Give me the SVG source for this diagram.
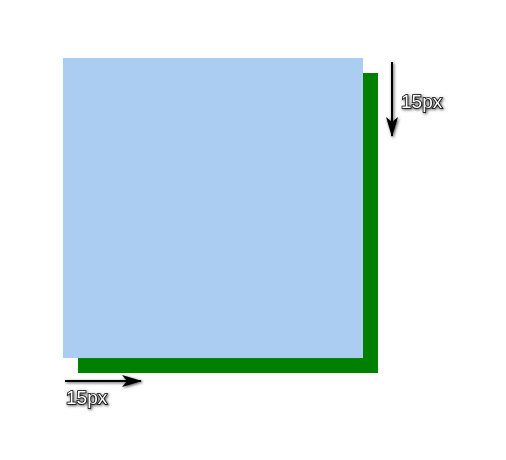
<svg xmlns="http://www.w3.org/2000/svg" width="506" height="460" viewBox="0 0 506 460">
<style>
.lbl{font-family:"Liberation Sans",Arial,sans-serif;font-size:19px;fill:#fff;stroke:#000;stroke-width:1.6;paint-order:stroke;filter:url(#sh)}
.arr{stroke:#000;stroke-width:2;fill:none;filter:url(#sh)}
</style>
<defs>
<filter id="sh" filterUnits="userSpaceOnUse" x="0" y="0" width="506" height="460">
<feDropShadow dx="1" dy="1" stdDeviation="1.5" flood-color="#000" flood-opacity="0.7"/>
</filter>
<marker id="ah" viewBox="0 0 20 12" refX="19" refY="6" markerWidth="20" markerHeight="12" markerUnits="userSpaceOnUse" orient="auto">
<path d="M0,0 L20,6 L0,12 L5,6 Z" fill="#000"/>
</marker>
</defs>
<g id="shadow-box"><rect x="78" y="73" width="300" height="300" fill="#008000"/></g>
<g id="box"><rect x="63" y="58" width="300" height="300" fill="#abcdf1"/></g>
<g id="connectors">
<line class="arr" x1="392" y1="62" x2="392" y2="136" marker-end="url(#ah)"/>
<line class="arr" x1="65" y1="381" x2="141" y2="381" marker-end="url(#ah)"/>
</g>
<g id="labels">
<text class="lbl" x="401" y="108">15px</text>
<text class="lbl" x="66" y="404">15px</text>
</g>
</svg>
